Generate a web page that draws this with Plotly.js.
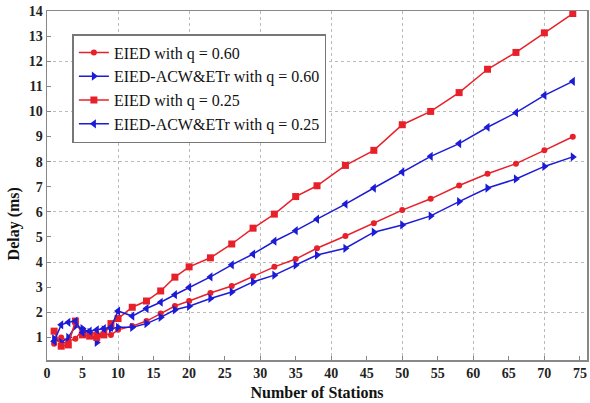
<!DOCTYPE html>
<html>
<head>
<meta charset="utf-8">
<script src="https://cdn.plot.ly/plotly-3.0.1.min.js"></script>
<style>html,body{margin:0;padding:0;background:#fff;}#chart{width:590px;height:403px;}</style>
</head>
<body>
<div id="chart"></div>
<script>
const stations = [1,2,3,4,5,6,7,8,9,10,12,14,16,18,20,23,26,29,32,35,38,42,46,50,54,58,62,66,70,74];
const eiedQ60 = [0.75,1.0,0.85,0.95,1.3,1.2,1.15,1.15,1.1,1.3,1.45,1.65,1.95,2.25,2.45,2.77,3.05,3.44,3.81,4.12,4.55,5.04,5.55,6.07,6.52,7.05,7.52,7.92,8.45,8.99];
const acwQ60 = [0.95,0.8,1.0,1.45,1.35,1.2,0.8,1.3,1.35,1.4,1.4,1.55,1.8,2.1,2.24,2.55,2.81,3.21,3.48,3.88,4.28,4.55,5.19,5.48,5.84,6.41,6.95,7.31,7.81,8.19];
const eiedQ25 = [1.25,0.65,0.7,1.65,1.1,1.05,1.0,1.1,1.55,1.75,2.2,2.45,2.85,3.4,3.81,4.17,4.72,5.35,5.91,6.61,7.04,7.85,8.45,9.47,10.0,10.75,11.68,12.35,13.13,13.9];
const acwQ25 = [0.85,1.5,1.6,1.65,1.2,1.25,1.3,1.35,1.4,2.05,1.85,2.15,2.4,2.7,2.99,3.41,3.89,4.32,4.83,5.25,5.71,6.31,6.95,7.59,8.21,8.72,9.37,9.95,10.64,11.2];
const seriesNames = ["EIED with q = 0.60","EIED-ACW&ETr with q = 0.60","EIED with q = 0.25","EIED-ACW&ETr with q = 0.25"];
const xTitle = "Number of Stations";
const yTitle = "Delay (ms)";

const RED = "#e8202a", BLUE = "#1c1cd6";
const font = "Liberation Serif";

const traces = [
  {x: stations, y: eiedQ60, name: seriesNames[0], mode: "lines+markers",
   line: {color: RED, width: 1.5}, marker: {symbol: "circle", size: 6, color: RED}},
  {x: stations, y: acwQ60, name: seriesNames[1], mode: "lines+markers",
   line: {color: BLUE, width: 1.5}, marker: {symbol: "triangle-right", size: 8, color: BLUE}},
  {x: stations, y: eiedQ25, name: seriesNames[2], mode: "lines+markers",
   line: {color: RED, width: 1.5}, marker: {symbol: "square", size: 7, color: RED}},
  {x: stations, y: acwQ25, name: seriesNames[3], mode: "lines+markers",
   line: {color: BLUE, width: 1.5}, marker: {symbol: "triangle-left", size: 8, color: BLUE}},
  {x: [], y: [], xaxis: "x2", yaxis: "y2", showlegend: false, hoverinfo: "skip", mode: "lines"}
];

const layout = {
  width: 590, height: 403,
  margin: {l: 47, r: 3, t: 11, b: 43},
  paper_bgcolor: "#fff", plot_bgcolor: "#fff",
  font: {family: font, color: "#1a1a1a"},
  showlegend: true,
  legend: {x: 0.047, y: 0.934, xanchor: "left", yanchor: "top",
           bgcolor: "#fff", bordercolor: "#777", borderwidth: 1.5,
           font: {family: font, size: 16, color: "#111"}, tracegroupgap: 0, itemwidth: 30},
  xaxis: {range: [0, 76], dtick: 5, tick0: 0, showgrid: false, zeroline: false,
          showline: true, mirror: true, linecolor: "#888", linewidth: 1.5,
          ticks: "inside", ticklen: 4, tickcolor: "#888",
          tickfont: {family: font, size: 14, color: "#222", weight: "bold"},
          title: {text: xTitle, font: {family: font, size: 16, color: "#111", weight: "bold"}, standoff: 6}},
  yaxis: {range: [0.1, 14], dtick: 1, tick0: 0, showgrid: false, zeroline: false,
          showline: true, mirror: true, linecolor: "#888", linewidth: 1.5,
          ticks: "inside", ticklen: 4, tickcolor: "#888",
          tickfont: {family: font, size: 14, color: "#222", weight: "bold"}},
  xaxis2: {overlaying: "x", matches: "x", range: [0, 76], dtick: 10, tick0: 0, showgrid: true,
           gridcolor: "#bbb", griddash: "dot", gridwidth: 1, showticklabels: false,
           ticks: "", zeroline: false, showline: false, anchor: "y2"},
  yaxis2: {overlaying: "y", range: [0.1, 14], dtick: 2, tick0: 0, showgrid: true,
           gridcolor: "#bbb", griddash: "dot", gridwidth: 1, showticklabels: false,
           ticks: "", zeroline: false, showline: false, anchor: "x2"},
  annotations: [{text: yTitle, xref: "paper", yref: "paper", x: -0.062, y: 0.39,
                 xanchor: "center", yanchor: "middle", textangle: -90, showarrow: false,
                 font: {family: font, size: 16, color: "#111", weight: "bold"}}]
};

Plotly.newPlot("chart", traces, layout, {displayModeBar: false, staticPlot: true});
</script>
</body>
</html>
